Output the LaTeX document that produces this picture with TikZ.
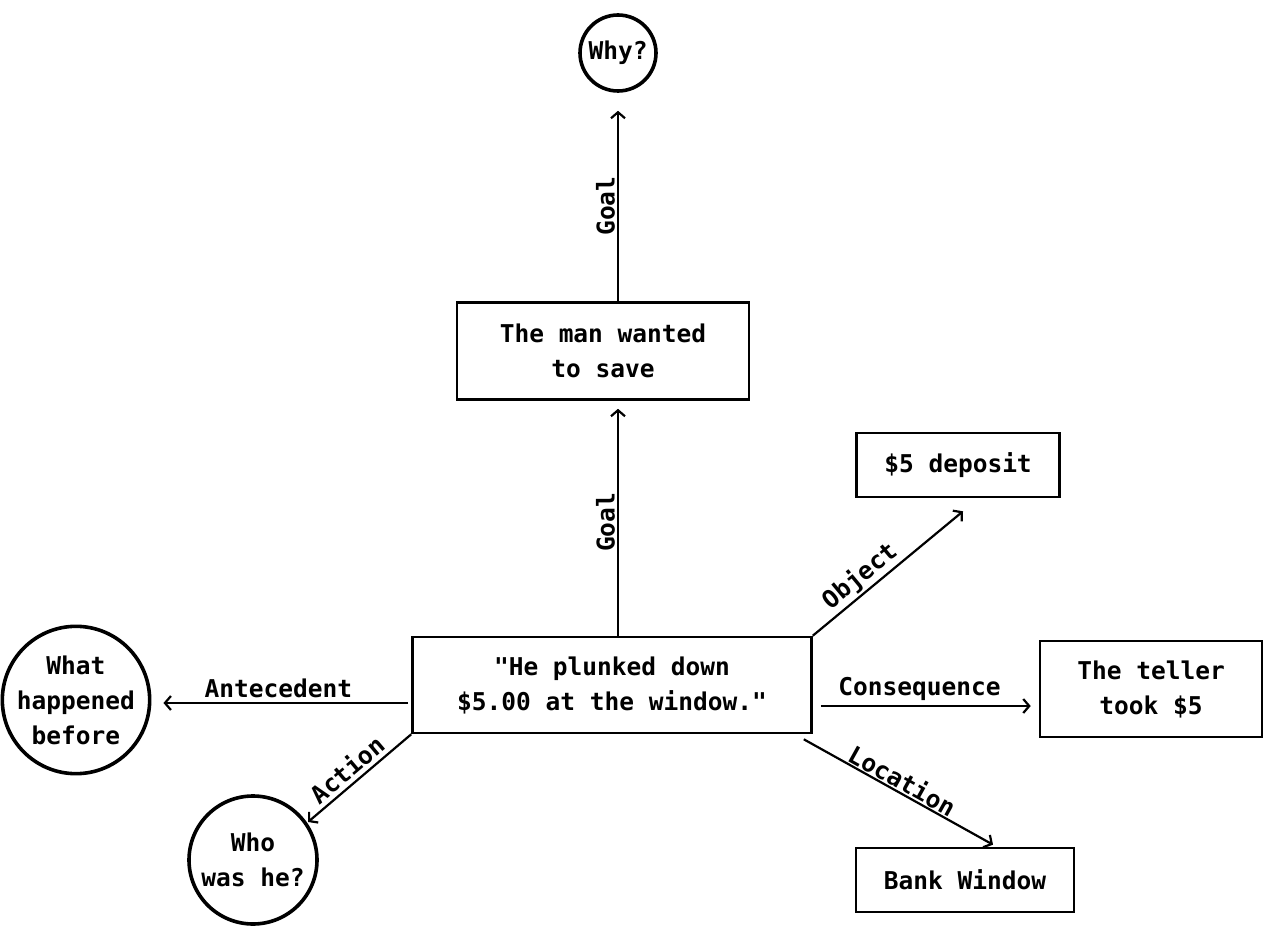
\documentclass[tikz,border=0pt]{standalone}
\usepackage{fontspec}
\setmonofont{DejaVu Sans Mono}
\usetikzlibrary{arrows.meta,calc}
\begin{document}
\begin{tikzpicture}[x=1pt,y=-1pt,
  every node/.style={font=\ttfamily\bfseries\fontsize{24.5}{35}\selectfont},
  box/.style={draw, rectangle, line width=2.6pt, align=center, inner sep=0pt},
  circ/.style={draw, circle, line width=3.6pt, align=center, inner sep=0pt},
  arr/.style={line width=2.2pt, -{Straight Barb[length=6pt,width=14pt,line width=2.2pt]}},
  lab/.style={inner sep=4pt}]
\useasboundingbox (0,0) rectangle (1264,928);
% nodes
\node[circ, minimum size=76pt] (why) at (618,53) {Why?};
\node[box, minimum width=292pt, minimum height=97pt] (save) at (603,351) {The man wanted\\to save};
\node[box, minimum width=399pt, minimum height=96pt] (main) at (612,685) {"He plunked down\\\$5.00 at the window."};
\node[box, minimum width=203pt, minimum height=64pt] (dep) at (958,465) {\$5 deposit};
\node[box, minimum width=222pt, minimum height=96pt] (teller) at (1151,689) {The teller\\took \$5};
\node[box, minimum width=218pt, minimum height=64pt] (bank) at (965,880) {Bank Window};
\node[circ, minimum size=144pt] (what) at (76,700) {What\\happened\\before};
\node[circ, minimum size=128pt] (who) at (253,860) {Who\\was he?};
% connectors
\draw[arr] (save.north -| why.south) -- ($(why.south)+(0,18)$)
  node[lab, pos=0.5, sloped, above, inner sep=2pt] {Goal};
\draw[arr] (main.north -| why.south) -- ($(save.south -| why.south)+(0,8)$)
  node[lab, pos=0.5, sloped, above, inner sep=2pt] {Goal};
\draw[arr] (main.north east) -- ($(dep.south)+(5,13)$)
  node[lab, pos=0.38, sloped, above, inner sep=2pt] {Object};
\draw[arr] ($(main.east)+(8,21)$) -- ($(teller.west)+(-8,17)$)
  node[lab, pos=0.47, above] {Consequence};
\draw[arr] ($(main.south east)+(-9,5)$) -- ($(bank.north)+(28,-2)$)
  node[lab, pos=0.49, sloped, above, inner sep=1pt] {Location};
\draw[arr] ($(main.west)+(-3,18)$) -- ($(what.east)+(12,3)$)
  node[lab, pos=0.53, above] {Antecedent};
\draw[arr] (main.south west) -- ($(who.center)+(55,-38)$)
  node[lab, pos=0.53, sloped, above] {Action};
\end{tikzpicture}
\end{document}
